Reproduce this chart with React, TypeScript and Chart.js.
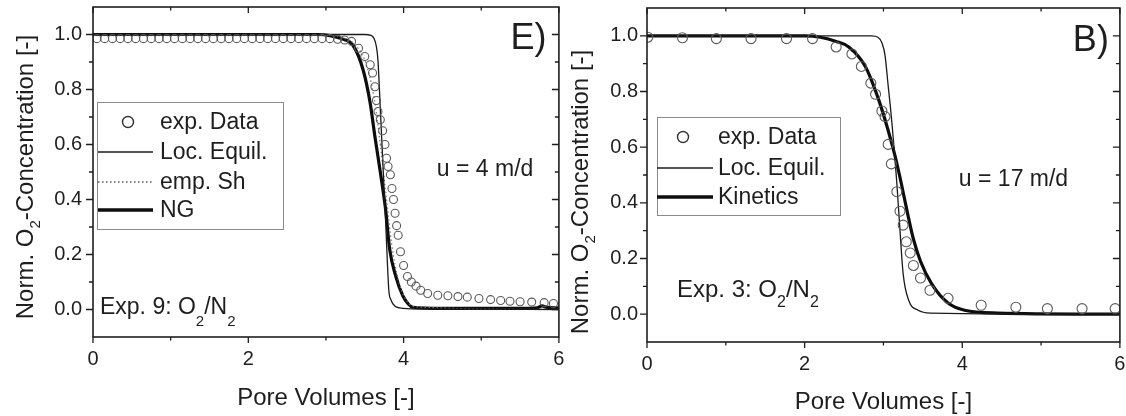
import React, { useEffect, useRef } from "react";
import { Chart, registerables } from "chart.js";

Chart.register(...registerables);

const FONT = "'Liberation Sans', Arial, Helvetica, sans-serif";
const INK = "#1e1e1e";

// ---------- shared axis ticks ----------
const xMajorTicks = [0, 2, 4, 6];
const xMajorLabels = ["0", "2", "4", "6"];
const xMinorTicks = [1, 3, 5];
const yMajorTicks = [0, 0.2, 0.4, 0.6, 0.8, 1.0];
const yMajorLabels = ["0.0", "0.2", "0.4", "0.6", "0.8", "1.0"];
const yMinorTicks = [0.1, 0.3, 0.5, 0.7, 0.9];

// ---------- Left panel: Exp. 9, u = 4 m/d ----------
const leftExpPV = [
  0.05, 0.15, 0.25, 0.35, 0.45, 0.55, 0.65, 0.75, 0.85, 0.95, 1.05, 1.15, 1.25, 1.35, 1.45, 1.55,
  1.65, 1.75, 1.85, 1.95, 2.05, 2.15, 2.25, 2.35, 2.45, 2.55, 2.65, 2.75, 2.85, 2.95, 3.05,
  3.15, 3.24, 3.33, 3.42, 3.5, 3.57, 3.6, 3.63, 3.65, 3.67, 3.7, 3.73, 3.76, 3.78, 3.8, 3.83,
  3.85, 3.87, 3.89, 3.91, 3.93, 3.96, 4.0, 4.05, 4.1, 4.16, 4.22, 4.31, 4.44, 4.57, 4.7, 4.82,
  4.97, 5.12, 5.25, 5.37, 5.5, 5.65, 5.81, 5.93,
];
const leftExpC = [
  0.985, 0.985, 0.985, 0.985, 0.985, 0.985, 0.985, 0.985, 0.985, 0.985, 0.985, 0.985, 0.985, 0.985, 0.985, 0.985,
  0.985, 0.985, 0.985, 0.985, 0.985, 0.985, 0.985, 0.985, 0.985, 0.985, 0.985, 0.985, 0.985, 0.985, 0.985,
  0.983, 0.98, 0.975, 0.95, 0.92, 0.89, 0.86, 0.81, 0.76, 0.72, 0.69, 0.65, 0.6, 0.55, 0.52, 0.49,
  0.44, 0.4, 0.35, 0.305, 0.27, 0.21, 0.16, 0.12, 0.1, 0.085, 0.07, 0.058, 0.052, 0.05, 0.047, 0.045,
  0.04, 0.036, 0.033, 0.03, 0.028, 0.027, 0.025, 0.022,
];
const leftLocPV = [0, 3.5, 3.58, 3.62, 3.65, 3.67, 3.7, 3.735, 3.77, 3.81, 3.84, 3.89, 3.95, 4.2, 6];
const leftLocC = [1, 1, 0.997, 0.985, 0.955, 0.905, 0.73, 0.52, 0.31, 0.07, 0.033, 0.012, 0.006, 0.002, 0];
const leftShPV = [0, 3.0, 3.2, 3.4, 3.52, 3.62, 3.7, 3.78, 3.85, 3.93, 4.02, 4.15, 6];
const leftShC = [1, 0.998, 0.99, 0.955, 0.89, 0.77, 0.6, 0.4, 0.23, 0.11, 0.04, 0.01, 0];
const leftNgPV = [0, 2.9, 3.05, 3.2, 3.35, 3.48, 3.57, 3.63, 3.7, 3.77, 3.82, 3.9, 3.99, 4.06, 4.12, 4.5, 5.5, 5.72, 5.78, 5.85, 6];
const leftNgC = [1, 1, 0.996, 0.985, 0.96, 0.87, 0.75, 0.63, 0.5, 0.36, 0.22, 0.12, 0.05, 0.02, 0.008, 0.004, 0.004, 0.006, 0.013, 0.008, 0.006];

// ---------- Right panel: Exp. 3, u = 17 m/d ----------
const rightExpPV = [
  0.01, 0.45, 0.88, 1.32, 1.77, 2.1, 2.4, 2.6, 2.72, 2.84, 2.9, 2.98, 3.02, 3.06, 3.1, 3.17,
  3.21, 3.25, 3.29, 3.34, 3.38, 3.47, 3.59, 3.82, 4.24, 4.68, 5.08, 5.52, 5.94,
];
const rightExpC = [
  0.995, 0.993, 0.99, 0.99, 0.99, 0.99, 0.96, 0.935, 0.89, 0.83, 0.79, 0.73, 0.71, 0.61, 0.54, 0.44,
  0.37, 0.32, 0.26, 0.22, 0.175, 0.13, 0.086, 0.057, 0.032, 0.025, 0.02, 0.02, 0.02,
];
const rightLocPV = [0, 2.85, 2.93, 2.98, 3.02, 3.06, 3.1, 3.17, 3.21, 3.25, 3.32, 3.44, 3.6, 6];
const rightLocC = [1, 1, 0.995, 0.975, 0.93, 0.82, 0.71, 0.47, 0.3, 0.145, 0.05, 0.014, 0.004, 0];
const rightKinPV = [0, 2.0, 2.2, 2.4, 2.56, 2.77, 2.94, 3.06, 3.15, 3.23, 3.3, 3.38, 3.47, 3.61, 3.82, 4.03, 4.45, 6];
const rightKinC = [1, 1, 0.995, 0.98, 0.96, 0.89, 0.77, 0.66, 0.565, 0.465, 0.37, 0.27, 0.19, 0.11, 0.04, 0.014, 0.004, 0];

// ---------- text ----------
const xTitle = "Pore Volumes [-]";
const yTitleParts = [{ t: "Norm. O" }, { t: "2", sub: true }, { t: "-Concentration [-]" }];
const seriesLabelsLeft = ["exp. Data", "Loc. Equil.", "emp. Sh", "NG"];
const seriesLabelsRight = ["exp. Data", "Loc. Equil.", "Kinetics"];

type Part = { t: string; sub?: boolean };

const zip = (xs: number[], ys: number[]) => xs.map((x, i) => ({ x, y: ys[i] }));

function drawParts(
  ctx: CanvasRenderingContext2D,
  parts: Part[],
  x: number,
  y: number,
  size: number,
  subSize: number,
  subShift: number,
  align: "left" | "center" | "right"
) {
  ctx.textAlign = "left";
  ctx.textBaseline = "alphabetic";
  let w = 0;
  for (const p of parts) {
    ctx.font = `${p.sub ? subSize : size}px ${FONT}`;
    w += ctx.measureText(p.t).width;
  }
  let cx = align === "center" ? x - w / 2 : align === "right" ? x - w : x;
  for (const p of parts) {
    ctx.font = `${p.sub ? subSize : size}px ${FONT}`;
    ctx.fillText(p.t, cx, p.sub ? y + subShift : y);
    cx += ctx.measureText(p.t).width;
  }
}

type LegendItem = { label: string; kind: "circle" | "line"; width?: number; dash?: number[]; color: string };

interface PanelCfg {
  canvasWidth: number;
  padTop: number;
  padRight: number;
  yAxisW: number;
  xAxisH: number;
  yTickPad: number;
  pointRadius: number;
  datasets: any[];
  legend: {
    dx: number; dy: number; w: number; h: number; rows: number[];
    line0: number; line1: number; circleX: number; textX: number; size: number;
    items: LegendItem[];
  };
  annots: { parts: Part[]; x: number; y: number; size: number; align: "left" | "center" | "right"; subShift?: number }[];
  yTitle: { x: number; cy: number };
  xTitleBaseline: number;
}

function makePlugins(cfg: PanelCfg) {
  const frame = {
    id: "frame",
    afterDraw(chart: any) {
      const ctx: CanvasRenderingContext2D = chart.ctx;
      const { left, right, top, bottom } = chart.chartArea;
      const xs = chart.scales.x;
      const ys = chart.scales.y;
      ctx.save();
      ctx.strokeStyle = INK;
      ctx.lineWidth = 1.6;
      ctx.strokeRect(left, top, right - left, bottom - top);
      ctx.lineWidth = 1.3;
      ctx.beginPath();
      const tickX = (vals: number[], len: number) => {
        for (const v of vals) {
          const px = xs.getPixelForValue(v);
          ctx.moveTo(px, bottom); ctx.lineTo(px, bottom + len);
          ctx.moveTo(px, top); ctx.lineTo(px, top + len);
        }
      };
      const tickY = (vals: number[], len: number) => {
        for (const v of vals) {
          const py = ys.getPixelForValue(v);
          ctx.moveTo(left, py); ctx.lineTo(left - len, py);
          ctx.moveTo(right, py); ctx.lineTo(right - len, py);
        }
      };
      tickX(xMajorTicks, 6);
      tickX(xMinorTicks, 3.5);
      tickY(yMajorTicks, 7);
      tickY(yMinorTicks, 4);
      ctx.stroke();

      // axis titles
      ctx.fillStyle = INK;
      ctx.font = `24px ${FONT}`;
      ctx.textAlign = "center";
      ctx.textBaseline = "alphabetic";
      ctx.fillText(xTitle, (left + right) / 2, cfg.xTitleBaseline);
      ctx.translate(cfg.yTitle.x, cfg.yTitle.cy);
      ctx.rotate(-Math.PI / 2);
      drawParts(ctx, yTitleParts, 0, 0, 24, 15, 7, "center");
      ctx.restore();
    },
  };

  const legend = {
    id: "boxLegend",
    afterDraw(chart: any) {
      const ctx: CanvasRenderingContext2D = chart.ctx;
      const { left, top } = chart.chartArea;
      const L = cfg.legend;
      const bx = left + L.dx;
      const by = top + L.dy;
      ctx.save();
      ctx.fillStyle = "#ffffff";
      ctx.fillRect(bx, by, L.w, L.h);
      ctx.strokeStyle = "#8a8a8a";
      ctx.lineWidth = 1;
      ctx.strokeRect(bx + 0.5, by + 0.5, L.w, L.h);
      L.items.forEach((it, i) => {
        const ry = by + L.rows[i];
        if (it.kind === "circle") {
          ctx.strokeStyle = it.color;
          ctx.lineWidth = 1.4;
          ctx.setLineDash([]);
          ctx.beginPath();
          ctx.arc(bx + L.circleX, ry, 5.5, 0, Math.PI * 2);
          ctx.stroke();
        } else {
          ctx.strokeStyle = it.color;
          ctx.lineWidth = it.width || 1;
          ctx.setLineDash(it.dash || []);
          ctx.beginPath();
          ctx.moveTo(bx + L.line0, ry);
          ctx.lineTo(bx + L.line1, ry);
          ctx.stroke();
          ctx.setLineDash([]);
        }
        ctx.fillStyle = INK;
        ctx.font = `${L.size}px ${FONT}`;
        ctx.textAlign = "left";
        ctx.textBaseline = "middle";
        ctx.fillText(it.label, bx + L.textX, ry + 1);
      });
      ctx.restore();
    },
  };

  const annots = {
    id: "annots",
    afterDraw(chart: any) {
      const ctx: CanvasRenderingContext2D = chart.ctx;
      const xs = chart.scales.x;
      const ys = chart.scales.y;
      ctx.save();
      ctx.fillStyle = INK;
      for (const a of cfg.annots) {
        drawParts(
          ctx, a.parts, xs.getPixelForValue(a.x), ys.getPixelForValue(a.y),
          a.size, Math.round(a.size * 0.65), a.subShift ?? Math.round(a.size * 0.45), a.align
        );
      }
      ctx.restore();
    },
  };
  return [frame, legend, annots];
}

function buildConfig(cfg: PanelCfg): any {
  return {
    type: "line",
    data: { datasets: cfg.datasets },
    options: {
      animation: false,
      responsive: false,
      maintainAspectRatio: false,
      events: [],
      layout: { padding: { top: cfg.padTop, right: cfg.padRight, left: 0, bottom: 0 } },
      plugins: { legend: { display: false }, tooltip: { enabled: false }, title: { display: false } },
      scales: {
        x: {
          type: "linear",
          min: 0,
          max: 6,
          grid: { display: false, drawTicks: false },
          border: { display: false },
          afterBuildTicks: (s: any) => { s.ticks = xMajorTicks.map((v) => ({ value: v })); },
          afterFit: (s: any) => { s.height = cfg.xAxisH; s.paddingLeft = 0; s.paddingRight = 0; },
          ticks: {
            autoSkip: false,
            maxRotation: 0,
            padding: 10,
            color: INK,
            font: { family: FONT, size: 20 },
            callback: (v: number) => { const i = xMajorTicks.indexOf(v); return i >= 0 ? xMajorLabels[i] : ""; },
          },
        },
        y: {
          type: "linear",
          min: -0.1,
          max: 1.1,
          grid: { display: false, drawTicks: false },
          border: { display: false },
          afterBuildTicks: (s: any) => { s.ticks = yMajorTicks.map((v) => ({ value: v })); },
          afterFit: (s: any) => { s.width = cfg.yAxisW; s.paddingTop = 0; s.paddingBottom = 0; },
          ticks: {
            autoSkip: false,
            padding: cfg.yTickPad,
            color: INK,
            font: { family: FONT, size: 20 },
            callback: (v: number) => { const i = yMajorTicks.indexOf(v); return i >= 0 ? yMajorLabels[i] : ""; },
          },
        },
      },
    },
    plugins: makePlugins(cfg),
  };
}

const pointDs = (label: string, xs: number[], ys: number[], r: number) => ({
  label,
  data: zip(xs, ys),
  showLine: false,
  pointStyle: "circle",
  pointRadius: r,
  pointBorderWidth: 1.1,
  pointBorderColor: "#5a5a5a",
  pointBackgroundColor: "rgba(0,0,0,0)",
});
const lineDs = (label: string, xs: number[], ys: number[], w: number, color: string, dash: number[] = []) => ({
  label,
  data: zip(xs, ys),
  borderColor: color,
  borderWidth: w,
  borderDash: dash,
  pointRadius: 0,
  fill: false,
  cubicInterpolationMode: "monotone",
});

const leftCfg: PanelCfg = {
  canvasWidth: 564,
  padTop: 7,
  padRight: 2,
  yAxisW: 93,
  xAxisH: 79,
  yTickPad: 11,
  pointRadius: 4,
  datasets: [
    pointDs(seriesLabelsLeft[0], leftExpPV, leftExpC, 4),
    lineDs(seriesLabelsLeft[1], leftLocPV, leftLocC, 1.3, "#1a1a1a"),
    lineDs(seriesLabelsLeft[2], leftShPV, leftShC, 1.2, "#777777", [1.5, 2.5]),
    lineDs(seriesLabelsLeft[3], leftNgPV, leftNgC, 3.2, "#0d0d0d"),
  ],
  legend: {
    dx: 4, dy: 95, w: 186, h: 127, rows: [20, 50, 80, 108],
    line0: 1, line1: 56, circleX: 31, textX: 63, size: 23,
    items: [
      { label: seriesLabelsLeft[0], kind: "circle", color: "#333" },
      { label: seriesLabelsLeft[1], kind: "line", width: 1.3, color: "#1a1a1a" },
      { label: seriesLabelsLeft[2], kind: "line", width: 1.3, dash: [1.5, 2.5], color: "#555" },
      { label: seriesLabelsLeft[3], kind: "line", width: 3.5, color: "#0d0d0d" },
    ],
  },
  annots: [
    { parts: [{ t: "u = 4 m/d" }], x: 5.05, y: 0.487, size: 23, align: "center" },
    { parts: [{ t: "E)" }], x: 5.84, y: 0.949, size: 36, align: "right" },
    {
      parts: [{ t: "Exp. 9: O" }, { t: "2", sub: true }, { t: "/N" }, { t: "2", sub: true }],
      x: 0.09, y: -0.015, size: 23, align: "left", subShift: 12,
    },
  ],
  yTitle: { x: 33, cy: 177 },
  xTitleBaseline: 405,
};

const rightCfg: PanelCfg = {
  canvasWidth: 562,
  padTop: 8,
  padRight: 3,
  yAxisW: 83,
  xAxisH: 74,
  yTickPad: 9,
  pointRadius: 5,
  datasets: [
    pointDs(seriesLabelsRight[0], rightExpPV, rightExpC, 5),
    lineDs(seriesLabelsRight[1], rightLocPV, rightLocC, 1.3, "#1a1a1a"),
    lineDs(seriesLabelsRight[2], rightKinPV, rightKinC, 3.2, "#0d0d0d"),
  ],
  legend: {
    dx: 10, dy: 109, w: 183, h: 98, rows: [20, 51, 80],
    line0: 0, line1: 56, circleX: 26, textX: 61, size: 23,
    items: [
      { label: seriesLabelsRight[0], kind: "circle", color: "#333" },
      { label: seriesLabelsRight[1], kind: "line", width: 1.3, color: "#1a1a1a" },
      { label: seriesLabelsRight[2], kind: "line", width: 3.5, color: "#0d0d0d" },
    ],
  },
  annots: [
    { parts: [{ t: "u = 17 m/d" }], x: 4.65, y: 0.462, size: 23, align: "center" },
    { parts: [{ t: "B)" }], x: 5.86, y: 0.946, size: 36, align: "right" },
    {
      parts: [{ t: "Exp. 3: O" }, { t: "2", sub: true }, { t: "/N" }, { t: "2", sub: true }],
      x: 0.38, y: 0.061, size: 24, align: "left", subShift: 10,
    },
  ],
  yTitle: { x: 24, cy: 192 },
  xTitleBaseline: 409,
};

function Panel({ cfg, left }: { cfg: PanelCfg; left: number }) {
  const ref = useRef<HTMLCanvasElement>(null);
  useEffect(() => {
    const chart = new Chart(ref.current as HTMLCanvasElement, buildConfig(cfg));
    return () => chart.destroy();
  }, [cfg]);
  return (
    <canvas
      ref={ref}
      width={cfg.canvasWidth}
      height={416}
      style={{ position: "absolute", left, top: 0, width: cfg.canvasWidth, height: 416, display: "block" }}
    />
  );
}

export default function App() {
  return (
    <div style={{ position: "absolute", left: 0, top: 0, width: 1126, height: 416, background: "#ffffff", overflow: "hidden" }}>
      <Panel cfg={leftCfg} left={0} />
      <Panel cfg={rightCfg} left={564} />
    </div>
  );
}
